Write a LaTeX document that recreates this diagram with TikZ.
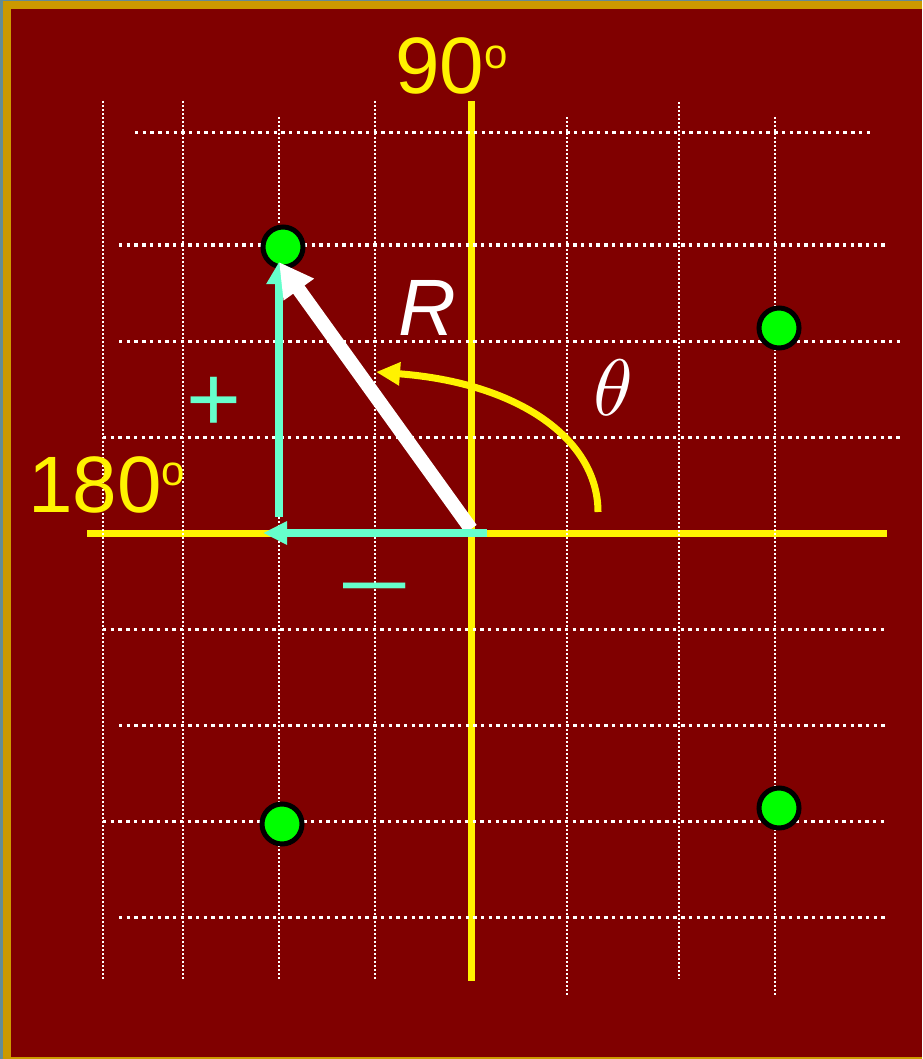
\documentclass[tikz,border=0pt]{standalone}
\usepackage{fontspec}
\setmainfont{Liberation Sans}
\usepackage{graphicx}
\usetikzlibrary{arrows.meta}
\definecolor{maroonbg}{RGB}{128,0,0}
\definecolor{goldframe}{RGB}{204,153,0}
\definecolor{edgegray}{RGB}{100,140,150}
\definecolor{aqua}{RGB}{102,255,204}
\definecolor{dotgreen}{RGB}{0,255,0}
\tikzset{
  hgrid/.style={white, line width=3pt, dash pattern=on 3.4pt off 4.3pt},
  vgrid/.style={white, line width=1.6pt, dash pattern=on 2pt off 2pt},
  axisline/.style={yellow, line width=7pt},
  bigtext/.style={inner sep=0pt, font=\fontsize{80}{80}\selectfont},
  point/.style={circle, draw=black, line width=5pt, fill=dotgreen, minimum size=40pt, inner sep=0pt},
  compo/.style={aqua, line width=7.5pt},
}
\begin{document}
\begin{tikzpicture}[x=1pt,y=-1pt]
\useasboundingbox (0,0) rectangle (922,1059);
\fill[edgegray] (0,0) rectangle (922,1059);
\fill[goldframe] (3,1) rectangle (922,1059);
\fill[maroonbg] (11,9) rectangle (922,1057);

% axes
\coordinate (O) at (471,533);
\coordinate (ytop) at (471,101);
\coordinate (ybot) at (471,981);
\coordinate (xleft) at (87,533);
\coordinate (xright) at (887,533);
\draw[axisline] (ytop) -- (ybot);
\draw[axisline] (xleft) -- (xright);

% horizontal dotted grid
\foreach \y/\a/\b in {133/135/870, 245/119/885, 341/119/900, 437/103/900, 629/103/885, 725/119/885, 821/103/885, 917/119/885}
  \draw[hgrid] (\a,\y) -- (\b,\y);
% vertical dotted grid
\foreach \x/\a/\b in {103/101/979, 183/101/979, 279/117/980, 375/101/979, 567/117/995, 679/102/979, 775/117/995}
  \draw[vgrid] (\x,\a) -- (\x,\b);

% angle arc
\coordinate (arcstart) at (598,512);
\coordinate (arcend) at (376,372);
\draw[yellow, line width=7pt, -{Triangle[length=24pt,width=22pt]}]
  (arcstart) .. controls (598,440) and (520,383) .. (arcend);

% points
\node[point] (p1) at (283,247) {};
\node[point] (p2) at (779,328) {};
\node[point] (p3) at (282,824) {};
\node[point] (p4) at (779,808) {};

% components
\coordinate (vbase) at (279,517);
\coordinate (vtip) at (279,262);
\coordinate (hbase) at (487,533);
\coordinate (htip) at (263,533);
\draw[compo, -{Triangle[length=22pt,width=24pt]}] (vbase) -- (vtip);

% R vector
\coordinate (rbase) at (471,529);
\coordinate (rtip) at (279,262);
\draw[white, line width=14pt, -{Triangle[length=34pt,width=35pt]}] (rbase) -- (rtip);

\draw[compo, -{Triangle[length=24pt,width=22pt]}] (hbase) -- (htip);

% labels
\node[bigtext, text=yellow, anchor=base west] (t90) at (395,94) {90\raisebox{25pt}{\fontsize{42}{42}\selectfont o}};
\node[bigtext, text=yellow, anchor=base west] (t180) at (28,512) {180\raisebox{27pt}{\fontsize{42}{42}\selectfont o}};
\node[bigtext, text=white, anchor=base west, font=\fontsize{80}{80}\selectfont\itshape] (tR) at (398,335) {R};
\node[text=white, inner sep=0pt] (tth) at (613,388) {\scalebox{8}{$\theta$}};
\node[inner sep=0pt, text=aqua, anchor=base, font=\fontsize{94}{94}\selectfont] (tplus) at (214,431) {+};
\node[inner sep=0pt, text=aqua, anchor=base] (tminus) at (375,607) {\scalebox{1.12}[0.85]{\fontsize{100}{100}\selectfont –}};
\end{tikzpicture}
\end{document}
